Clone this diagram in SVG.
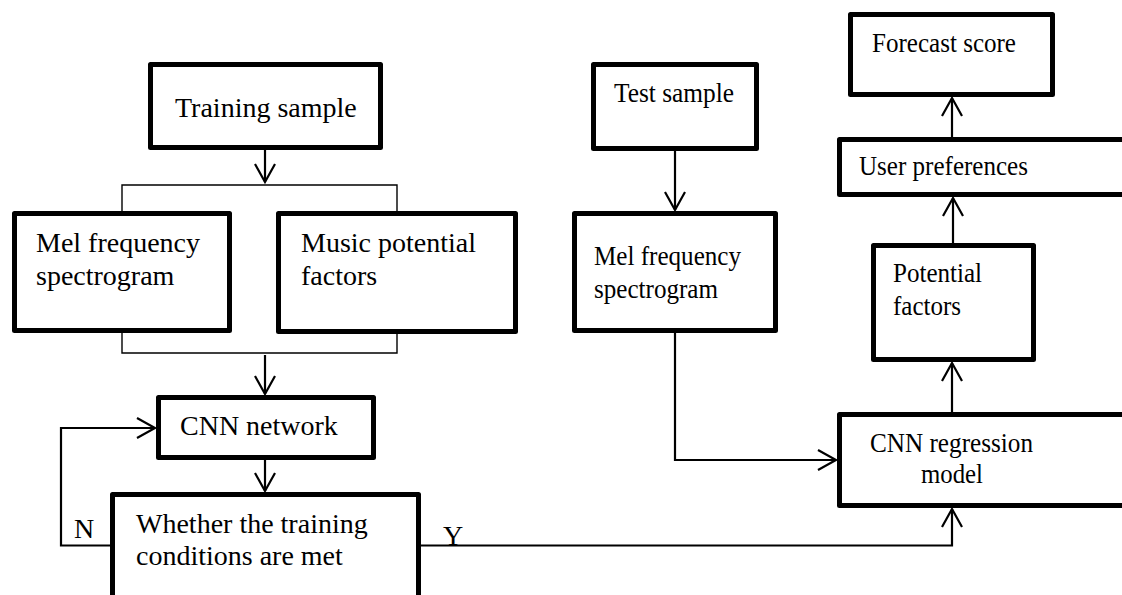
<svg xmlns="http://www.w3.org/2000/svg" width="1122" height="595" viewBox="0 0 1122 595">
  <style>
    .box { fill: #fff; stroke: #000; stroke-width: 5; stroke-linejoin: round; }
    .lbl { font-family: "Liberation Serif", "Times New Roman", serif; font-size: 28px; fill: #000; }
    .wire { fill: none; stroke: #000; stroke-width: 2.2; }
    .split { fill: none; stroke: #000; stroke-width: 1.4; }
  </style>
  <defs>
    <marker id="arr" viewBox="-20 -12 24 24" refX="0" refY="0" markerWidth="24" markerHeight="24" markerUnits="userSpaceOnUse" orient="auto">
      <path d="M-18,-10 L0,0 L-18,10" fill="none" stroke="#000" stroke-width="2.2"/>
    </marker>
  </defs>
  <rect width="1122" height="595" fill="#fff"/>

  <!-- connectors -->
  <g id="connectors">
    <path class="wire" d="M265,150 V182" marker-end="url(#arr)"/>
    <path class="split" d="M122,213 V185 H397 V213"/>
    <path class="split" d="M122,333 V353 H397 V333"/>
    <path class="wire" d="M265,355 V394" marker-end="url(#arr)"/>
    <path class="wire" d="M265,460 V491" marker-end="url(#arr)"/>
    <path class="wire" d="M110,545.5 H61 V428 H155" marker-end="url(#arr)"/>
    <path class="wire" d="M421,545.5 H952 V509" marker-end="url(#arr)"/>
    <path class="wire" d="M675,151 V210" marker-end="url(#arr)"/>
    <path class="wire" d="M675,333 V460 H836" marker-end="url(#arr)"/>
    <path class="wire" d="M952,412 V363" marker-end="url(#arr)"/>
    <path class="wire" d="M953,243 V198" marker-end="url(#arr)"/>
    <path class="wire" d="M952,137 V98" marker-end="url(#arr)"/>
    <text class="lbl" x="74" y="538">N</text>
    <text class="lbl" x="443" y="545">Y</text>
  </g>

  <g id="training-sample">
    <rect class="box" x="150.5" y="64.5" width="230" height="83"/>
    <text class="lbl" x="175" y="117">Training sample</text>
  </g>

  <g id="mel-train">
    <rect class="box" x="14.5" y="213.5" width="215" height="117"/>
    <text class="lbl" x="36" y="252">Mel frequency</text>
    <text class="lbl" x="36" y="285">spectrogram</text>
  </g>

  <g id="music-factors">
    <rect class="box" x="278.5" y="213.5" width="237" height="118"/>
    <text class="lbl" x="301" y="252">Music potential</text>
    <text class="lbl" x="301" y="285">factors</text>
  </g>

  <g id="cnn-network">
    <rect class="box" x="158.5" y="397.5" width="215" height="60"/>
    <text class="lbl" x="180" y="435">CNN network</text>
  </g>

  <g id="training-check">
    <rect class="box" x="112.5" y="494.5" width="306" height="110"/>
    <text class="lbl" x="136" y="533">Whether the training</text>
    <text class="lbl" x="136" y="565">conditions are met</text>
  </g>

  <g id="test-sample">
    <rect class="box" x="593.5" y="64.5" width="163" height="84"/>
    <text class="lbl" x="614" y="102" textLength="120" lengthAdjust="spacingAndGlyphs">Test sample</text>
  </g>

  <g id="mel-test">
    <rect class="box" x="574.5" y="213.5" width="201" height="117"/>
    <text class="lbl" x="594" y="265" textLength="147" lengthAdjust="spacingAndGlyphs">Mel frequency</text>
    <text class="lbl" x="594" y="298" textLength="124" lengthAdjust="spacingAndGlyphs">spectrogram</text>
  </g>

  <g id="forecast-score">
    <rect class="box" x="850.5" y="14.5" width="202" height="80"/>
    <text class="lbl" x="872" y="52" textLength="144" lengthAdjust="spacingAndGlyphs">Forecast score</text>
  </g>

  <g id="user-preferences">
    <rect class="box" x="839.5" y="139.5" width="290" height="55"/>
    <text class="lbl" x="859" y="175" textLength="169" lengthAdjust="spacingAndGlyphs">User preferences</text>
  </g>

  <g id="potential-factors">
    <rect class="box" x="873.5" y="245.5" width="160" height="114"/>
    <text class="lbl" x="893" y="282" textLength="89" lengthAdjust="spacingAndGlyphs">Potential</text>
    <text class="lbl" x="893" y="315" textLength="68" lengthAdjust="spacingAndGlyphs">factors</text>
  </g>

  <g id="cnn-regression">
    <rect class="box" x="839.5" y="414.5" width="290" height="91"/>
    <text class="lbl" x="870" y="452" textLength="163" lengthAdjust="spacingAndGlyphs">CNN regression</text>
    <text class="lbl" x="921" y="483" textLength="62" lengthAdjust="spacingAndGlyphs">model</text>
  </g>
</svg>
